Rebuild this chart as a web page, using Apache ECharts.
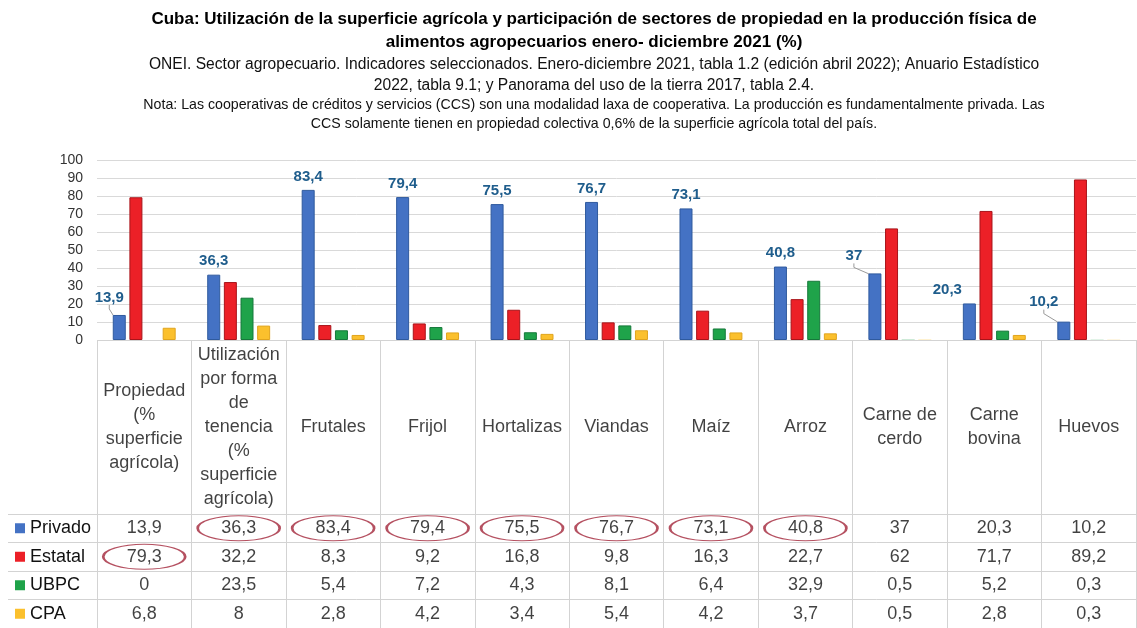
<!DOCTYPE html>
<html>
<head>
<meta charset="utf-8">
<script src="https://cdn.jsdelivr.net/npm/echarts@6/dist/echarts.min.js"></script>
<style>html,body{margin:0;padding:0;background:#fff}#c{width:1137px;height:628px}</style>
</head>
<body>
<div id="c"></div>
<script>
// ---- data ----
const categories = ['Propiedad\n(%\nsuperficie\nagrícola)', 'Utilización\npor forma\nde\ntenencia\n(%\nsuperficie\nagrícola)', 'Frutales', 'Frijol', 'Hortalizas', 'Viandas', 'Maíz', 'Arroz', 'Carne de\ncerdo', 'Carne\nbovina', 'Huevos'];
const seriesNames = ['Privado', 'Estatal', 'UBPC', 'CPA'];
const privado = [13.9, 36.3, 83.4, 79.4, 75.5, 76.7, 73.1, 40.8, 37, 20.3, 10.2];
const estatal = [79.3, 32.2, 8.3, 9.2, 16.8, 9.8, 16.3, 22.7, 62, 71.7, 89.2];
const ubpc = [0, 23.5, 5.4, 7.2, 4.3, 8.1, 6.4, 32.9, 0.5, 5.2, 0.3];
const cpa = [6.8, 8, 2.8, 4.2, 3.4, 5.4, 4.2, 3.7, 0.5, 2.8, 0.3];
const yMin = 0, yMax = 100, yStep = 10;
// cells highlighted with a red ellipse in the table: [column index, row name]
const circled = [[1, 'Privado'], [2, 'Privado'], [3, 'Privado'], [4, 'Privado'], [5, 'Privado'], [6, 'Privado'], [7, 'Privado'], [0, 'Estatal']];
const titleLines = ['Cuba: Utilización de la superficie agrícola y participación de sectores de propiedad en la producción física de', 'alimentos agropecuarios enero- diciembre 2021 (%)'];
const sourceLines = ['ONEI. Sector agropecuario. Indicadores seleccionados. Enero-diciembre 2021, tabla 1.2 (edición abril 2022); Anuario Estadístico', '2022, tabla 9.1; y Panorama del uso de la tierra 2017, tabla 2.4.'];
const noteLines = ['Nota: Las cooperativas de créditos y servicios (CCS) son una modalidad laxa de cooperativa. La producción es fundamentalmente privada. Las', 'CCS solamente tienen en propiedad colectiva 0,6% de la superficie agrícola total del país.'];

// ---- styles ----
const values = [privado, estatal, ubpc, cpa];
const colors = ['#4472C4', '#EC2027', '#1FA34A', '#FBC02D'];
const borders = ['#2F5A9E', '#A8141A', '#15783A', '#E0A41E'];
const labelShift = {0: [-10, -4], 8: [-21, -4], 9: [-22, 0], 10: [-20, -6]};
const leader = {0: true, 8: true, 10: true};
const body = "'Liberation Sans', Arial, sans-serif";
const fmt = v => String(v).replace('.', ',');
const lineCol = '#d3d3d3';
const ink = '#111';
const titleX = 594;

const barSeries = seriesNames.map((name, s) => ({
  name, type: 'bar', xAxisIndex: 0, yAxisIndex: 0,
  barWidth: 13, barGap: '28%',
  itemStyle: {color: colors[s], borderColor: borders[s], borderWidth: 1},
  data: values[s].map((v, i) => ({
    value: v,
    itemStyle: v < 1 ? {borderWidth: 0, opacity: 0.25} : undefined,
    labelLine: {show: s === 0 && !!leader[i]}
  })),
  label: s === 0 ? {show: true, position: 'top', distance: 6, formatter: p => fmt(p.value),
    color: '#1F5D8C', fontWeight: 'bold', fontSize: 15, fontFamily: body} : {show: false},
  labelLine: {show: false, lineStyle: {color: '#9a9a9a', width: 1}, length2: 4},
  labelLayout: s === 0 ? (p => { const d = labelShift[p.dataIndex]; return d ? {dx: d[0], dy: d[1]} : {}; }) : undefined,
  animation: false
}));

const cellData = [];
seriesNames.forEach((name, s) => values[s].forEach((v, i) => cellData.push([i, name, v])));

const rich = {t: {fontSize: 18, fontFamily: body, color: ink, padding: [0, 0, 0, 5]}};
seriesNames.forEach((n, s) => { rich['k' + s] = {width: 10, height: 10, backgroundColor: colors[s]}; });

const option = {
  animation: false,
  backgroundColor: '#fff',
  title: [
    {text: titleLines.join('\n'), left: titleX, textAlign: 'center', top: 8, padding: 0,
      textStyle: {fontFamily: body, fontSize: 17, fontWeight: 'bold', color: '#000', lineHeight: 23}},
    {text: sourceLines.join('\n'), left: titleX, textAlign: 'center', top: 54, padding: 0,
      textStyle: {fontFamily: body, fontSize: 15.6, fontWeight: 'normal', color: ink, lineHeight: 21}},
    {text: noteLines.join('\n'), left: titleX, textAlign: 'center', top: 96, padding: 0,
      textStyle: {fontFamily: body, fontSize: 14.2, fontWeight: 'normal', color: ink, lineHeight: 19}}
  ],
  grid: [
    {left: 97, right: 1, top: 160, height: 180},
    {left: 97, right: 1, top: 340, height: 174},
    {left: 97, right: 1, top: 514, height: 114}
  ],
  xAxis: [
    {gridIndex: 0, type: 'category', data: categories, axisLine: {show: false}, axisTick: {show: false}, axisLabel: {show: false}},
    {gridIndex: 1, type: 'category', data: categories, axisLine: {show: false}, axisTick: {show: false}, axisLabel: {show: false},
      splitLine: {show: true, interval: 0, lineStyle: {color: lineCol}}},
    {gridIndex: 2, type: 'category', data: categories, axisLine: {show: false}, axisTick: {show: false}, axisLabel: {show: false},
      splitLine: {show: true, interval: 0, lineStyle: {color: lineCol}}}
  ],
  yAxis: [
    {gridIndex: 0, type: 'value', min: yMin, max: yMax, interval: yStep,
      axisLine: {show: false}, axisTick: {show: false},
      axisLabel: {margin: 14, fontSize: 14, fontFamily: body, color: '#333'},
      splitLine: {lineStyle: {color: '#d9d9d9'}}},
    {gridIndex: 1, type: 'value', min: 0, max: 1, interval: 1,
      axisLine: {show: false}, axisTick: {show: false}, axisLabel: {show: false},
      splitLine: {show: true, lineStyle: {color: lineCol}}},
    {gridIndex: 2, type: 'category', data: seriesNames, inverse: true,
      axisLine: {show: false},
      axisTick: {show: true, interval: 0, length: 89, lineStyle: {color: lineCol}},
      axisLabel: {interval: 0, align: 'left', margin: 82, formatter: (v, i) => '{k' + i + '|}{t|' + v + '}', rich},
      splitLine: {show: true, interval: 0, lineStyle: {color: lineCol}}},
    {gridIndex: 2, type: 'category', data: seriesNames, inverse: true, offset: 89,
      axisLine: {show: true, lineStyle: {color: lineCol}}, axisTick: {show: false}, axisLabel: {show: false}}
  ],
  series: barSeries.concat([
    {type: 'scatter', xAxisIndex: 1, yAxisIndex: 1, symbolSize: 0, silent: true,
      data: categories.map((c, i) => [i, 0.5]),
      label: {show: true, position: 'inside', formatter: p => categories[p.dataIndex],
        fontSize: 18, lineHeight: 24, fontFamily: body, color: ink}},
    {type: 'scatter', xAxisIndex: 2, yAxisIndex: 2, symbolSize: 0, silent: true,
      data: cellData,
      label: {show: true, position: 'inside', formatter: p => fmt(p.value[2]),
        fontSize: 18, fontFamily: body, color: ink}},
    {type: 'scatter', xAxisIndex: 2, yAxisIndex: 2, symbol: 'circle', symbolSize: [82, 25], silent: true,
      data: circled,
      itemStyle: {color: 'rgba(0,0,0,0)', borderColor: '#A3263A', borderWidth: 1.5}}
  ])
};
echarts.init(document.getElementById('c'), null, {renderer: 'canvas'}).setOption(option);
</script>
</body>
</html>
